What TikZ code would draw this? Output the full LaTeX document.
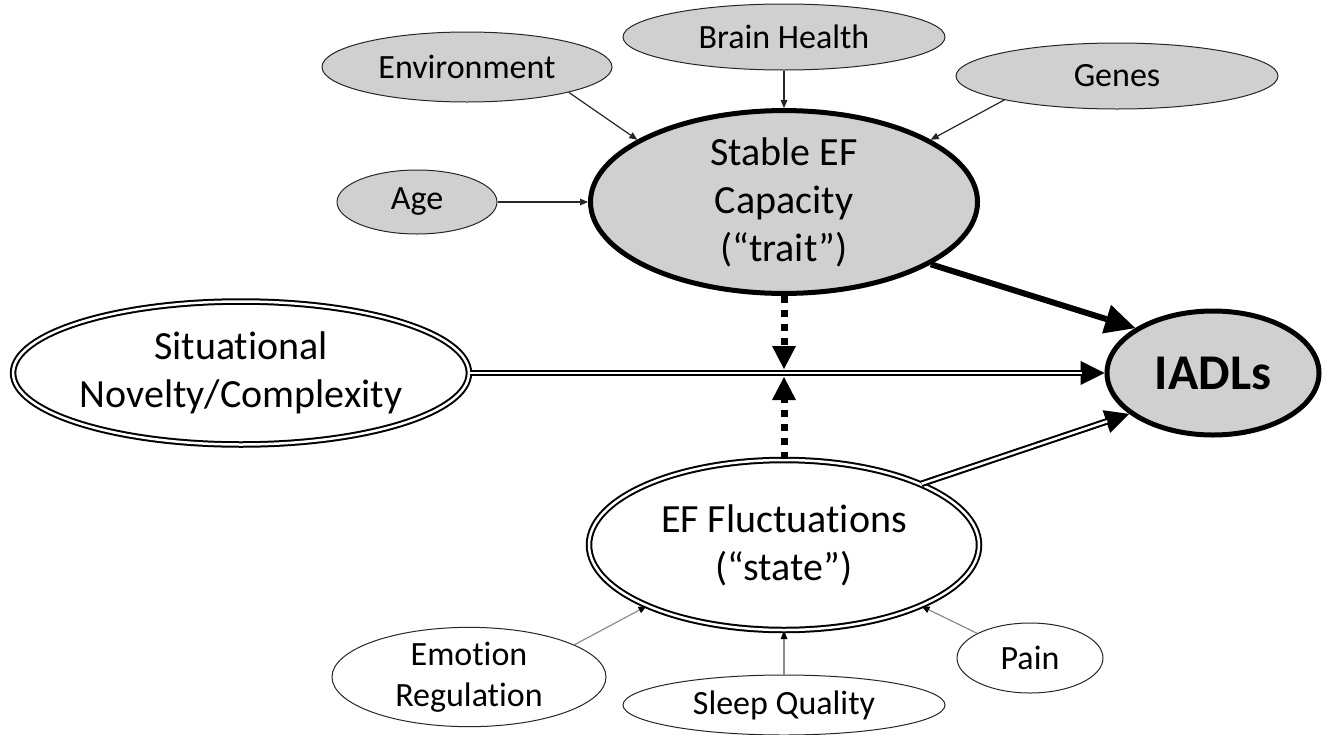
\documentclass[tikz,border=0pt]{standalone}
\usepackage{fontspec}
\setmainfont{Carlito}[Ligatures=CommonOff]
\usetikzlibrary{shapes.geometric,arrows.meta}

\definecolor{ovalgray}{RGB}{208,208,208}

\tikzset{
    oval/.style={ellipse, inner sep=0pt, align=center},
    smalloval/.style={oval, draw=black!85, line width=1pt, font=\fontsize{34}{41}\selectfont},
    grayoval/.style={smalloval, fill=ovalgray},
    whiteoval/.style={smalloval, fill=white},
    mainoval/.style={oval, draw=black, line width=5pt, fill=ovalgray, font=\fontsize{40}{48}\selectfont},
    dbloval/.style={oval, draw=black, double, line width=2pt, double distance=2.5pt, fill=white, font=\fontsize{40}{48}\selectfont},
    link/.style={line width=1.2pt, draw=black!85, -{Triangle[length=8pt,width=7pt,line width=0pt]}},
    greylink/.style={line width=1.2pt, draw=black!45, -{Triangle[length=8pt,width=7pt,line width=0pt,color=black]}},
    heavylink/.style={line width=6pt, -{Triangle[length=30pt,width=30pt,line width=0pt]}},
    dashlink/.style={line width=7pt, dash pattern=on 7pt off 7pt, -{Triangle[length=23pt,width=24pt,line width=0pt]}},
    dblhead/.style={line width=6pt, -{Triangle[length=24pt,width=24pt,line width=0pt]}},
    dblline/.style={double, line width=2pt, double distance=2.5pt, shorten >=23pt}
}

\begin{document}
\begin{tikzpicture}[x=1pt, y=-1pt]
    \useasboundingbox (0,0) rectangle (1327,734);

    % trait side
    \node [grayoval, minimum width=290, minimum height=70] (env) at (467,67) {Environment};
    \node [grayoval, minimum width=322, minimum height=66] (brain) at (784,37) {Brain Health};
    \node [grayoval, minimum width=322, minimum height=66] (genes) at (1117,76) {Genes};
    \node [grayoval, minimum width=160, minimum height=64] (age) at (417,202) {Age};
    \node [mainoval, minimum width=387, minimum height=161] (stable) at (784,202) {Stable EF\\Capacity\\(“trait”)};

    % outcome and situation
    \node [dbloval, minimum width=453, minimum height=143] (sit) at (241,373) {Situational\\Novelty/Complexity};
    \node [mainoval, minimum width=212, minimum height=124, font=\bfseries\fontsize{50}{60}\selectfont] (iadl) at (1213,373) {IADLs};

    % state side
    \node [dbloval, minimum width=390, minimum height=170] (eff) at (784,545) {EF Fluctuations\\(“state”)};
    \node [whiteoval, minimum width=274, minimum height=80] (emo) at (469,677) {Emotion\\Regulation};
    \node [whiteoval, minimum width=322, minimum height=60] (sleep) at (784,705) {Sleep Quality};
    \node [whiteoval, minimum width=146, minimum height=70] (pain) at (1030,658) {Pain};

    \coordinate (mtop) at (784,369);
    \coordinate (mbot) at (784,377);

    \draw [link] (env.-14) -- (stable.157);
    \draw [link] (brain) -- (stable);
    \draw [link] (genes.192) -- (stable.23);
    \draw [link] (age) -- (stable);

    \draw [heavylink] (stable.-23) -- (iadl.150);

    \draw [dblhead] (sit) -- (iadl);
    \draw [dblline] (sit) -- (iadl);
    \draw [dblhead] (eff.24) -- (iadl.206);
    \draw [dblline] (eff.24) -- (iadl.206);

    \draw [dashlink] (stable) -- (mtop);
    \draw [dashlink] (eff) -- (mbot);

    \draw [greylink] (emo.17) -- (eff.204);
    \draw [greylink] (sleep) -- (eff);
    \draw [greylink] (pain.155) -- (eff.-24);
\end{tikzpicture}
\end{document}
